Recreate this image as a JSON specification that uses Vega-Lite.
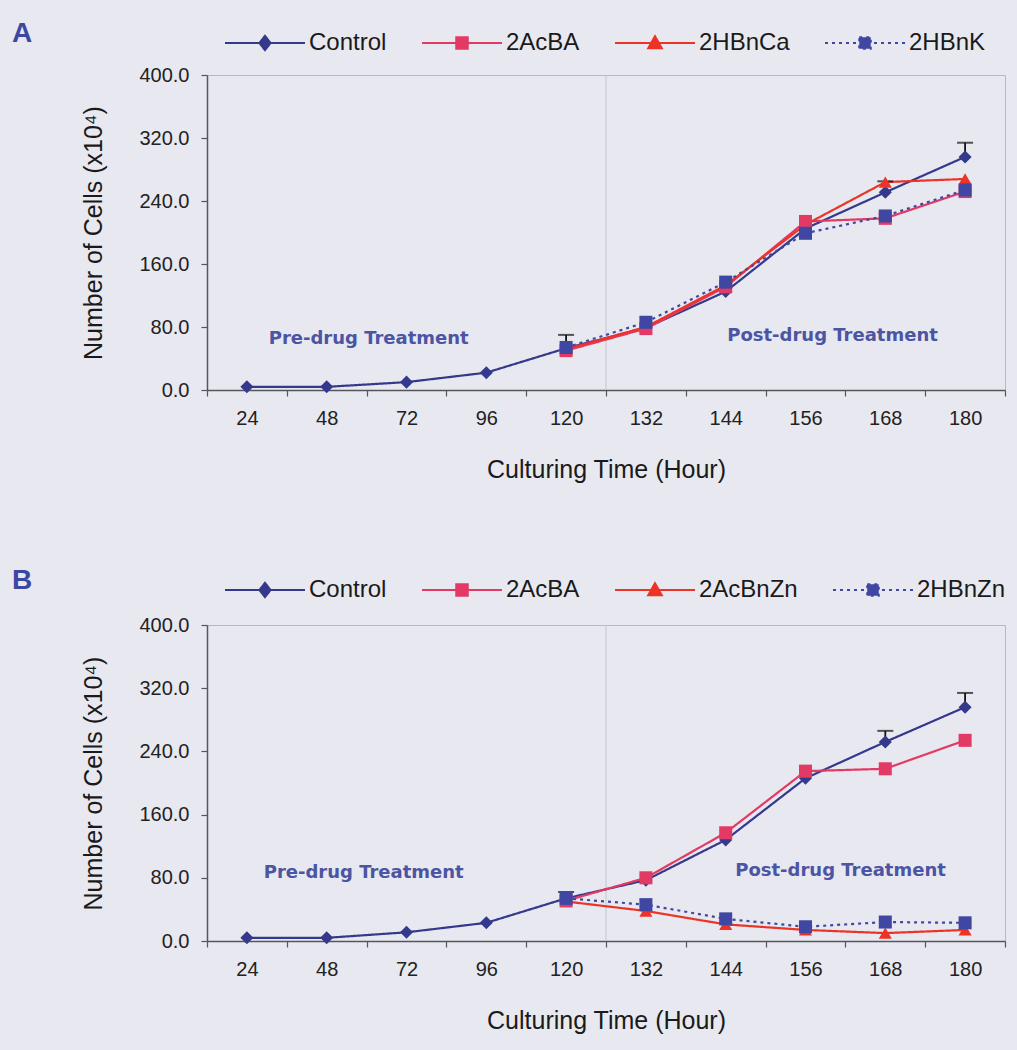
{
  "$schema": "https://vega.github.io/schema/vega-lite/v6.json",
  "autosize": {"type": "none"},
  "padding": {"left": 207, "top": 75, "right": 810, "bottom": 975},
  "background": "#e8e8f0",
  "bounds": "flush",
  "spacing": 235,
  "config": {
    "font": "Liberation Sans",
    "view": {"stroke": "#b8b8c2", "strokeWidth": 1},
    "axis": {
      "labelFont": "Liberation Sans", "labelFontSize": 20, "labelColor": "#222222",
      "titleFont": "Liberation Sans", "titleFontSize": 25, "titleFontWeight": "normal", "titleColor": "#1a1a1a",
      "domainColor": "#55555c", "domainWidth": 1.5, "tickColor": "#55555c", "tickSize": 6, "tickWidth": 1.2,
      "grid": false, "labelPadding": 12
    },
    "legend": {"labelFont": "Liberation Sans", "labelFontSize": 24, "labelColor": "#1a1a1a"}
  },
  "datasets": {
    "panelA": [
      {"series": "Control", "hour": 24, "cells": 4},
      {"series": "Control", "hour": 48, "cells": 4},
      {"series": "Control", "hour": 72, "cells": 10},
      {"series": "Control", "hour": 96, "cells": 22},
      {"series": "Control", "hour": 120, "cells": 53, "upper": 70},
      {"series": "Control", "hour": 132, "cells": 79},
      {"series": "Control", "hour": 144, "cells": 125},
      {"series": "Control", "hour": 156, "cells": 205},
      {"series": "Control", "hour": 168, "cells": 251, "upper": 265},
      {"series": "Control", "hour": 180, "cells": 296, "upper": 314},
      {"series": "2AcBA", "hour": 120, "cells": 50},
      {"series": "2AcBA", "hour": 132, "cells": 78},
      {"series": "2AcBA", "hour": 144, "cells": 131},
      {"series": "2AcBA", "hour": 156, "cells": 214},
      {"series": "2AcBA", "hour": 168, "cells": 218},
      {"series": "2AcBA", "hour": 180, "cells": 252},
      {"series": "2HBnCa", "hour": 120, "cells": 52},
      {"series": "2HBnCa", "hour": 132, "cells": 80},
      {"series": "2HBnCa", "hour": 144, "cells": 133},
      {"series": "2HBnCa", "hour": 156, "cells": 210},
      {"series": "2HBnCa", "hour": 168, "cells": 264},
      {"series": "2HBnCa", "hour": 180, "cells": 268},
      {"series": "2HBnK", "hour": 120, "cells": 54},
      {"series": "2HBnK", "hour": 132, "cells": 86},
      {"series": "2HBnK", "hour": 144, "cells": 137},
      {"series": "2HBnK", "hour": 156, "cells": 199},
      {"series": "2HBnK", "hour": 168, "cells": 221},
      {"series": "2HBnK", "hour": 180, "cells": 254}
    ],
    "panelB": [
      {"series": "Control", "hour": 24, "cells": 4},
      {"series": "Control", "hour": 48, "cells": 4},
      {"series": "Control", "hour": 72, "cells": 11},
      {"series": "Control", "hour": 96, "cells": 23},
      {"series": "Control", "hour": 120, "cells": 54, "upper": 62},
      {"series": "Control", "hour": 132, "cells": 77},
      {"series": "Control", "hour": 144, "cells": 128},
      {"series": "Control", "hour": 156, "cells": 206},
      {"series": "Control", "hour": 168, "cells": 252, "upper": 266},
      {"series": "Control", "hour": 180, "cells": 296, "upper": 314},
      {"series": "2AcBA", "hour": 120, "cells": 51},
      {"series": "2AcBA", "hour": 132, "cells": 80},
      {"series": "2AcBA", "hour": 144, "cells": 137},
      {"series": "2AcBA", "hour": 156, "cells": 215},
      {"series": "2AcBA", "hour": 168, "cells": 218},
      {"series": "2AcBA", "hour": 180, "cells": 254},
      {"series": "2AcBnZn", "hour": 120, "cells": 50},
      {"series": "2AcBnZn", "hour": 132, "cells": 38},
      {"series": "2AcBnZn", "hour": 144, "cells": 21},
      {"series": "2AcBnZn", "hour": 156, "cells": 14},
      {"series": "2AcBnZn", "hour": 168, "cells": 10},
      {"series": "2AcBnZn", "hour": 180, "cells": 14},
      {"series": "2HBnZn", "hour": 120, "cells": 54},
      {"series": "2HBnZn", "hour": 132, "cells": 46},
      {"series": "2HBnZn", "hour": 144, "cells": 28},
      {"series": "2HBnZn", "hour": 156, "cells": 18},
      {"series": "2HBnZn", "hour": 168, "cells": 24},
      {"series": "2HBnZn", "hour": 180, "cells": 23}
    ]
  },
  "vconcat": [
    {
      "width": 798,
      "height": 315,
      "title": {"text": "A", "anchor": "start", "frame": "group", "dx": -195, "dy": 17, "offset": 0, "fontSize": 28, "fontWeight": "bold", "color": "#3b47a0", "font": "Liberation Sans"},
      "data": {"name": "panelA"},
      "encoding": {
        "x": {"field": "hour", "type": "ordinal", "scale": {"type": "band", "paddingInner": 0, "paddingOuter": 0}, "title": "Culturing Time (Hour)", "axis": {"labelAngle": 0, "tickBand": "extent", "titlePadding": 29}},
        "y": {"field": "cells", "type": "quantitative", "scale": {"domain": [0, 400], "nice": false}, "title": "Number of Cells (x10⁴)", "axis": {"values": [0, 80, 160, 240, 320, 400], "format": ".1f", "titlePadding": 32}}
      },
      "layer": [
        {
          "data": {"values": [{"divider": 132}]},
          "mark": {"type": "rule", "color": "#c4c4cc", "strokeWidth": 1},
          "encoding": {"x": {"field": "divider", "type": "ordinal", "bandPosition": 0}, "y": null}
        },
        {
          "mark": {"type": "line", "strokeWidth": 2.2},
          "encoding": {
            "color": {"field": "series", "type": "nominal", "scale": {"domain": ["Control", "2AcBA", "2HBnCa", "2HBnK"], "range": ["#34398b", "#e23a64", "#ec3326", "#3f47a2"]}},
            "strokeDash": {"field": "series", "type": "nominal", "scale": {"domain": ["Control", "2AcBA", "2HBnCa", "2HBnK"], "range": [[1, 0], [1, 0], [1, 0], [3, 4]]}}
          }
        },
        {
          "transform": [{"filter": "datum.upper != null"}],
          "mark": {"type": "rule", "color": "#111111", "strokeWidth": 1.8},
          "encoding": {"y2": {"field": "upper"}}
        },
        {
          "transform": [{"filter": "datum.upper != null"}],
          "mark": {"type": "tick", "color": "#111111", "thickness": 2, "size": 16},
          "encoding": {"y": {"field": "upper", "type": "quantitative"}}
        },
        {
          "transform": [{"filter": "datum.series === 'Control'"}],
          "mark": {"type": "point", "filled": true, "opacity": 1, "size": 170, "shape": "diamond"},
          "encoding": {"color": {"field": "series", "type": "nominal"}}
        },
        {
          "transform": [{"filter": "datum.series === '2HBnCa'"}],
          "mark": {"type": "point", "filled": true, "opacity": 1, "size": 170, "shape": "triangle-up"},
          "encoding": {"color": {"field": "series", "type": "nominal"}}
        },
        {
          "transform": [{"filter": "datum.series === '2AcBA' || datum.series === '2HBnK'"}],
          "mark": {"type": "point", "filled": true, "opacity": 1, "size": 170, "shape": "square"},
          "encoding": {"color": {"field": "series", "type": "nominal"}}
        },
        {
          "transform": [{"filter": "false"}],
          "mark": {"type": "point", "filled": true, "opacity": 1, "strokeWidth": 2},
          "encoding": {
            "color": {"field": "series", "type": "nominal",
              "legend": {"orient": "none", "legendX": 46, "legendY": -44, "direction": "horizontal", "columns": 4, "title": null, "symbolSize": 256, "symbolStrokeWidth": 2, "labelOffset": 32, "columnPadding": 31, "labelFontSize": 24}},
            "stroke": {"field": "series", "type": "nominal", "scale": {"domain": ["Control", "2AcBA", "2HBnCa", "2HBnK"], "range": ["#34398b", "#e23a64", "#ec3326", "#3f47a2"]}},
            "shape": {"field": "series", "type": "nominal", "scale": {"domain": ["Control", "2AcBA", "2HBnCa", "2HBnK"], "range": ["M-5,0L5,0M0,-0.9L0.7,0L0,0.9L-0.7,0Z", "M-5,0L5,0M-0.72,-0.72L0.72,-0.72L0.72,0.72L-0.72,0.72Z", "M-5,0L5,0M0,-0.85L0.85,0.65L-0.85,0.65Z", "M-5,0L5,0M-0.72,-0.72L0.72,-0.72L0.72,0.72L-0.72,0.72Z"]}},
            "strokeDash": {"field": "series", "type": "nominal"}
          }
        },
        {
          "data": {"values": [{"label": "Pre-drug Treatment", "hour": 48, "cells": 65}]},
          "mark": {"type": "text", "font": "DejaVu Sans", "fontWeight": "bold", "fontSize": 18, "color": "#4b55a3", "dx": 42, "align": "center", "baseline": "middle"},
          "encoding": {"text": {"field": "label"}}
        },
        {
          "data": {"values": [{"label": "Post-drug Treatment", "hour": 156, "cells": 69}]},
          "mark": {"type": "text", "font": "DejaVu Sans", "fontWeight": "bold", "fontSize": 18, "color": "#4b55a3", "dx": 27, "align": "center", "baseline": "middle"},
          "encoding": {"text": {"field": "label"}}
        }
      ]
    },
    {
      "width": 798,
      "height": 316,
      "title": {"text": "B", "anchor": "start", "frame": "group", "dx": -195, "dy": 17, "offset": 0, "fontSize": 28, "fontWeight": "bold", "color": "#3b47a0", "font": "Liberation Sans"},
      "data": {"name": "panelB"},
      "encoding": {
        "x": {"field": "hour", "type": "ordinal", "scale": {"type": "band", "paddingInner": 0, "paddingOuter": 0}, "title": "Culturing Time (Hour)", "axis": {"labelAngle": 0, "tickBand": "extent", "titlePadding": 29}},
        "y": {"field": "cells", "type": "quantitative", "scale": {"domain": [0, 400], "nice": false}, "title": "Number of Cells (x10⁴)", "axis": {"values": [0, 80, 160, 240, 320, 400], "format": ".1f", "titlePadding": 32}}
      },
      "layer": [
        {
          "data": {"values": [{"divider": 132}]},
          "mark": {"type": "rule", "color": "#c4c4cc", "strokeWidth": 1},
          "encoding": {"x": {"field": "divider", "type": "ordinal", "bandPosition": 0}, "y": null}
        },
        {
          "mark": {"type": "line", "strokeWidth": 2.2},
          "encoding": {
            "color": {"field": "series", "type": "nominal", "scale": {"domain": ["Control", "2AcBA", "2AcBnZn", "2HBnZn"], "range": ["#34398b", "#e23a64", "#ec3326", "#3f47a2"]}},
            "strokeDash": {"field": "series", "type": "nominal", "scale": {"domain": ["Control", "2AcBA", "2AcBnZn", "2HBnZn"], "range": [[1, 0], [1, 0], [1, 0], [3, 4]]}}
          }
        },
        {
          "transform": [{"filter": "datum.upper != null"}],
          "mark": {"type": "rule", "color": "#111111", "strokeWidth": 1.8},
          "encoding": {"y2": {"field": "upper"}}
        },
        {
          "transform": [{"filter": "datum.upper != null"}],
          "mark": {"type": "tick", "color": "#111111", "thickness": 2, "size": 16},
          "encoding": {"y": {"field": "upper", "type": "quantitative"}}
        },
        {
          "transform": [{"filter": "datum.series === 'Control'"}],
          "mark": {"type": "point", "filled": true, "opacity": 1, "size": 170, "shape": "diamond"},
          "encoding": {"color": {"field": "series", "type": "nominal"}}
        },
        {
          "transform": [{"filter": "datum.series === '2AcBnZn'"}],
          "mark": {"type": "point", "filled": true, "opacity": 1, "size": 170, "shape": "triangle-up"},
          "encoding": {"color": {"field": "series", "type": "nominal"}}
        },
        {
          "transform": [{"filter": "datum.series === '2AcBA' || datum.series === '2HBnZn'"}],
          "mark": {"type": "point", "filled": true, "opacity": 1, "size": 170, "shape": "square"},
          "encoding": {"color": {"field": "series", "type": "nominal"}}
        },
        {
          "transform": [{"filter": "false"}],
          "mark": {"type": "point", "filled": true, "opacity": 1, "strokeWidth": 2},
          "encoding": {
            "color": {"field": "series", "type": "nominal",
              "legend": {"orient": "none", "legendX": 46, "legendY": -47, "direction": "horizontal", "columns": 4, "title": null, "symbolSize": 256, "symbolStrokeWidth": 2, "labelOffset": 32, "columnPadding": 31, "labelFontSize": 24}},
            "stroke": {"field": "series", "type": "nominal", "scale": {"domain": ["Control", "2AcBA", "2AcBnZn", "2HBnZn"], "range": ["#34398b", "#e23a64", "#ec3326", "#3f47a2"]}},
            "shape": {"field": "series", "type": "nominal", "scale": {"domain": ["Control", "2AcBA", "2AcBnZn", "2HBnZn"], "range": ["M-5,0L5,0M0,-0.9L0.7,0L0,0.9L-0.7,0Z", "M-5,0L5,0M-0.72,-0.72L0.72,-0.72L0.72,0.72L-0.72,0.72Z", "M-5,0L5,0M0,-0.85L0.85,0.65L-0.85,0.65Z", "M-5,0L5,0M-0.72,-0.72L0.72,-0.72L0.72,0.72L-0.72,0.72Z"]}},
            "strokeDash": {"field": "series", "type": "nominal"}
          }
        },
        {
          "data": {"values": [{"label": "Pre-drug Treatment", "hour": 48, "cells": 86}]},
          "mark": {"type": "text", "font": "DejaVu Sans", "fontWeight": "bold", "fontSize": 18, "color": "#4b55a3", "dx": 37, "align": "center", "baseline": "middle"},
          "encoding": {"text": {"field": "label"}}
        },
        {
          "data": {"values": [{"label": "Post-drug Treatment", "hour": 156, "cells": 89}]},
          "mark": {"type": "text", "font": "DejaVu Sans", "fontWeight": "bold", "fontSize": 18, "color": "#4b55a3", "dx": 35, "align": "center", "baseline": "middle"},
          "encoding": {"text": {"field": "label"}}
        }
      ]
    }
  ],
  "resolve": {
    "scale": {"color": "independent", "stroke": "independent", "shape": "independent", "strokeDash": "independent", "x": "independent", "y": "independent"},
    "legend": {"color": "independent", "stroke": "independent", "shape": "independent", "strokeDash": "independent"}
  }
}
